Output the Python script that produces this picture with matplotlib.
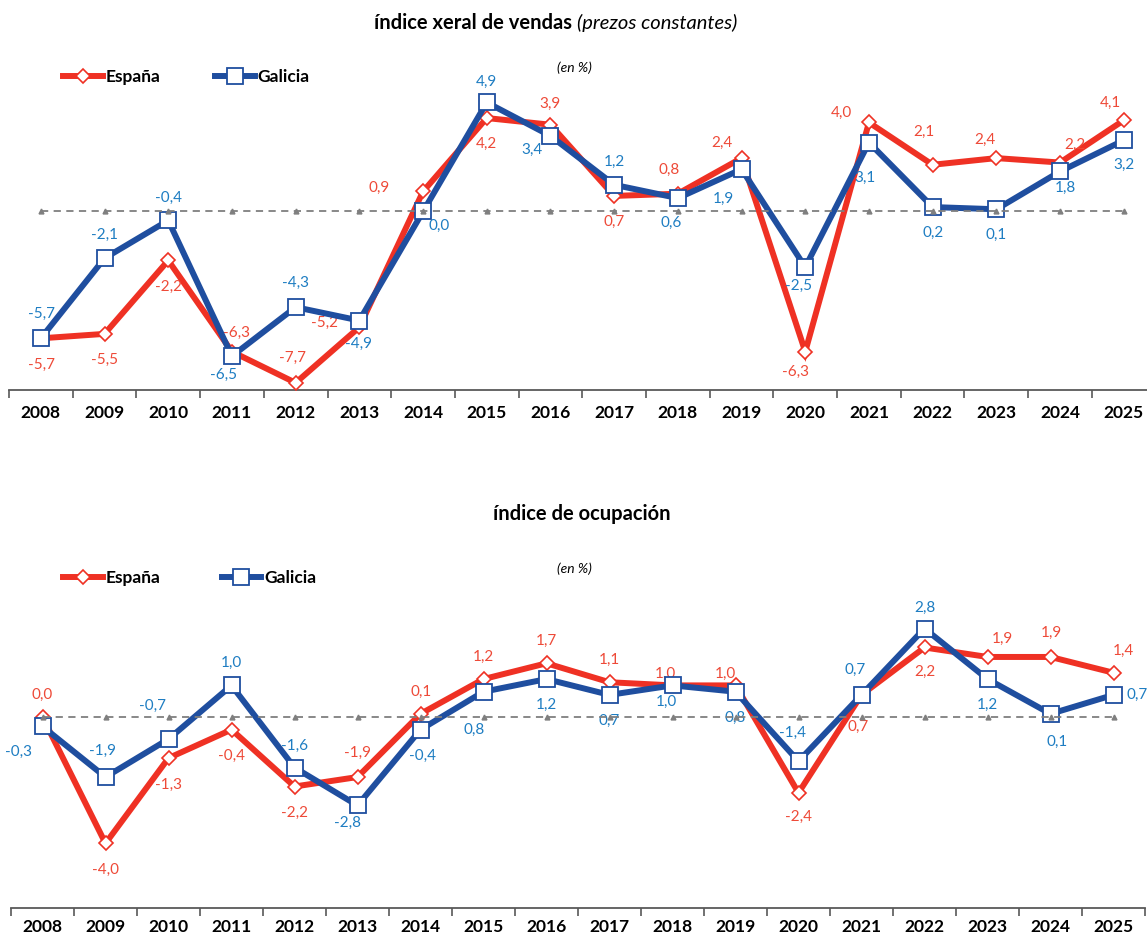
import numpy as np
import matplotlib
matplotlib.use("Agg")
import matplotlib.pyplot as plt
from matplotlib.lines import Line2D

plt.rcParams['font.family'] = ['Lato', 'DejaVu Sans']

# ---------------- data ----------------
years = ['2008', '2009', '2010', '2011', '2012', '2013', '2014', '2015', '2016',
         '2017', '2018', '2019', '2020', '2021', '2022', '2023', '2024', '2025']

# índice xeral de vendas (prezos constantes)
vendas_espana = [-5.7, -5.5, -2.2, -6.3, -7.7, -5.2, 0.9, 4.2, 3.9,
                 0.7, 0.8, 2.4, -6.3, 4.0, 2.1, 2.4, 2.2, 4.1]
vendas_galicia = [-5.7, -2.1, -0.4, -6.5, -4.3, -4.9, 0.0, 4.9, 3.4,
                  1.2, 0.6, 1.9, -2.5, 3.1, 0.2, 0.1, 1.8, 3.2]

# índice de ocupación
ocup_espana = [0.0, -4.0, -1.3, -0.4, -2.2, -1.9, 0.1, 1.2, 1.7,
               1.1, 1.0, 1.0, -2.4, 0.7, 2.2, 1.9, 1.9, 1.4]
ocup_galicia = [-0.3, -1.9, -0.7, 1.0, -1.6, -2.8, -0.4, 0.8, 1.2,
                0.7, 1.0, 0.8, -1.4, 0.7, 2.8, 1.2, 0.1, 0.7]

# label offsets in pixels (dx, dy), layout only
off_v_es = [(1, -27), (0, -26), (0, -26), (5, 19), (-3, 25), (-35, 4), (-44, 4), (0, -26), (0, 21),
            (0, -26), (-9, 24), (-20, 15), (-10, -20), (-28, 10), (-9, 33), (-11, 18), (15, 18), (-13, 17)]
off_v_ga = [(1, 24), (0, 23), (0, 23), (-8, -19), (0, 24), (-1, -23), (16, -14), (0, 21), (-18, -14),
            (0, 23), (-7, -25), (-18, -30), (-7, -19), (-4, -35), (0, -26), (0, -26), (5, -16), (0, -25)]
off_o_es = [(0, 22), (0, -26), (0, -27), (0, -26), (0, -26), (0, 24), (1, 22), (0, 22), (0, 22),
            (0, 22), (-7, 12), (-10, 12), (0, -24), (-3, -32), (0, -24), (15, 18), (1, 24), (10, 22)]
off_o_ga = [(-24, -25), (-3, 26), (-16, 33), (0, 23), (0, 22), (-10, -17), (2, -26), (-9, -38), (0, -26),
            (0, -26), (-6, -16), (0, -26), (-6, 28), (-6, 25), (0, 21), (0, -26), (7, -28), (24, 0)]

RED = '#EF3124'
BLUE = '#1F4E9F'
RED_TXT = '#EE4A38'
BLUE_TXT = '#1E7DC2'
GREY = '#7F7F7F'

W, H = 1147, 938
fig = plt.figure(figsize=(W / 100, H / 100), dpi=100)


def draw_panel(ax, es, ga, off_es, off_ga, ylim, pad):
    x = np.arange(len(years))
    ax.plot(x, es, color=RED, lw=4.3, marker='D', ms=7, mfc='white', mec=RED, mew=1.2,
            zorder=3, solid_joinstyle='miter')
    ax.plot(x, ga, color=BLUE, lw=4.3, marker='s', ms=11, mfc='white', mec=BLUE, mew=1.3,
            zorder=4, solid_joinstyle='miter')
    ax.plot(x, np.zeros(len(x)), color=GREY, lw=1.3, ls=(0, (4, 3)), marker='^', ms=3.5,
            mfc=GREY, mec=GREY, zorder=5)
    for xi, v, o in zip(x, es, off_es):
        ax.annotate(f"{v:.1f}".replace('.', ','), (xi, v), xytext=o, textcoords='offset pixels',
                    ha='center', va='center', fontsize=11, color=RED_TXT, annotation_clip=False)
    for xi, v, o in zip(x, ga, off_ga):
        ax.annotate(f"{v:.1f}".replace('.', ','), (xi, v), xytext=o, textcoords='offset pixels',
                    ha='center', va='center', fontsize=11, color=BLUE_TXT, annotation_clip=False)
    ax.set_xlim(-0.5, len(years) - 0.5)
    ax.set_ylim(*ylim)
    for s in ['left', 'top', 'right']:
        ax.spines[s].set_visible(False)
    ax.spines['bottom'].set_color('#595959')
    ax.spines['bottom'].set_linewidth(1.3)
    ax.set_yticks([])
    ax.set_xticks(x)
    ax.set_xticklabels(years, fontsize=12.5, fontweight='bold')
    ax.tick_params(axis='x', which='major', length=0, pad=pad)
    ax.set_xticks(np.arange(len(years) + 1) - 0.5, minor=True)
    ax.tick_params(axis='x', which='minor', length=6, width=1.2, color='#595959')
    ax.patch.set_alpha(0)


def add_legend(y_px, x_px, colspace):
    handles = [Line2D([], [], color=RED, lw=4.3, marker='D', ms=7, mfc='white', mec=RED, mew=1.2),
               Line2D([], [], color=BLUE, lw=4.3, marker='s', ms=11, mfc='white', mec=BLUE, mew=1.3)]
    fig.legend(handles, ['España', 'Galicia'], loc='center left',
               bbox_to_anchor=(x_px / W, 1 - y_px / H), ncol=2, frameon=False,
               handlelength=2.3, handletextpad=0.17, columnspacing=colspace,
               borderpad=0, borderaxespad=0, prop={'weight': 'bold', 'size': 12.5})


# top panel: zero at y=211.5px, 22.25 px/unit, axis line at 390px
ax1 = fig.add_axes([9 / W, 1 - 390 / H, 1146.6 / W, 340 / H])
draw_panel(ax1, vendas_espana, vendas_galicia, off_v_es, off_v_ga,
           (-(390 - 211.5) / 22.25, (211.5 - 50) / 22.25), 11)

# bottom panel: zero at y=717px, 31.6 px/unit, axis line at 908px
ax2 = fig.add_axes([11 / W, 1 - 908 / H, 1134 / W, 348 / H])
draw_panel(ax2, ocup_espana, ocup_galicia, off_o_es, off_o_ga,
           (-(908 - 717) / 31.6, (717 - 560) / 31.6), 8)

# titles
fig.text(572 / W, 1 - 23 / H, 'índice xeral de vendas', ha='right', va='center',
         fontsize=14.5, fontweight='bold')
fig.text(577 / W, 1 - 23 / H, '(prezos constantes)', ha='left', va='center',
         fontsize=14.5, fontstyle='italic')
fig.text(582 / W, 1 - 514 / H, 'índice de ocupación', ha='center', va='center',
         fontsize=14.5, fontweight='bold')
fig.text(574 / W, 1 - 68 / H, '(en %)', ha='center', va='center', fontsize=10, fontstyle='italic')
fig.text(574 / W, 1 - 569 / H, '(en %)', ha='center', va='center', fontsize=10, fontstyle='italic')

add_legend(77, 63, 3.1)
add_legend(578, 63, 3.5)

fig.savefig('out.png', dpi=100)
